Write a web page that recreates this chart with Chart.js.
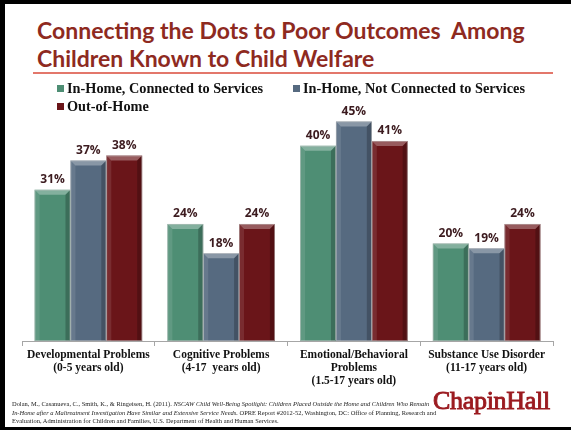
<!DOCTYPE html>
<html>
<head>
<meta charset="utf-8">
<title>Connecting the Dots to Poor Outcomes</title>
<script src="https://cdn.jsdelivr.net/npm/chart.js@4"></script>
<style>
  html, body { margin: 0; padding: 0; background: #fff; }
  #page { position: relative; width: 571px; height: 430px; overflow: hidden; background: #fff; }
  #frame { position: absolute; left: 0; top: 0; width: 571px; height: 430px; box-sizing: border-box;
           border-top: 4px solid #000; border-left: 5px solid #000; border-bottom: 3px solid #000; pointer-events: none; }
  #title { position: absolute; left: 37px; top: 16px; font-family: "Lato", "Open Sans", sans-serif; font-weight: bold;
           font-size: 23px; line-height: 28px; color: #8E2A1F; white-space: pre; }
  #rule { position: absolute; left: 33px; top: 72px; width: 520px; height: 2px; background: #E3776B; }
  #legend { position: absolute; left: 57px; top: 80px; width: 480px; }
  .lg-item { position: absolute; white-space: nowrap; font-family: "Liberation Serif", "Times New Roman", serif;
             font-weight: bold; font-size: 14.3px; line-height: 16px; color: #111; }
  .lg-box { display: inline-block; width: 7px; height: 7px; margin-right: 3px; vertical-align: 1px; }
  #chartWrap { position: absolute; left: 0; top: 0; width: 571px; height: 430px; }
  #source { position: absolute; left: 12px; top: 400px; font-family: "Liberation Serif", "Times New Roman", serif;
            font-size: 6.45px; line-height: 8.5px; color: #222; white-space: nowrap; }
  #logo { position: absolute; left: 433px; top: 386px; font-family: "Liberation Serif", "Times New Roman", serif;
          font-size: 26px; color: #9B1B20; -webkit-text-stroke: 0.9px #9B1B20; letter-spacing: -0.3px; }
</style>
</head>
<body>
<div id="page">
  <div id="title">Connecting the Dots to Poor Outcomes  Among
Children Known to Child Welfare</div>
  <div id="rule"></div>
  <div id="chartWrap"><canvas id="outcomeChart"></canvas></div>
  <div id="legend"></div>
  <div id="source">Dolan, M., Casanueva, C., Smith, K., &amp; Ringeisen, H. (2011). <i>NSCAW Child Well-Being Spotlight: Children Placed Outside the Home and Children Who Remain</i><br><i>In-Home after a Maltreatment Investigation Have Similar and Extensive Service Needs.</i> OPRE Report #2012-52, Washington, DC: Office of Planning, Research and<br>Evaluation, Administration for Children and Families, U.S. Department of Health and Human Services.</div>
  <div id="logo">ChapinHall</div>
  <div id="frame"></div>
</div>

<script>
// ---- data ----
const categories = [
  ["Developmental Problems", "(0-5 years old)"],
  ["Cognitive Problems", "(4-17  years old)"],
  ["Emotional/Behavioral", "Problems", "(1.5-17 years old)"],
  ["Substance Use Disorder", "(11-17 years old)"],
];
const seriesNames = [
  "In-Home, Connected to Services",
  "In-Home, Not Connected to Services",
  "Out-of-Home",
];
const connectedVals = [31, 24, 40, 20];
const notConnectedVals = [37, 18, 45, 19];
const outOfHomeVals = [38, 24, 41, 24];

const seriesColors = ["#4E8E74", "#566A80", "#6A1519"];

// bevelled look: light top face, light left edge, dark right edge
const bevelPlugin = {
  id: "bevel",
  afterDatasetsDraw(chart) {
    const ctx = chart.ctx;
    chart.data.datasets.forEach((ds, i) => {
      chart.getDatasetMeta(i).data.forEach((bar) => {
        const p = bar.getProps(["x", "y", "base", "width"], true);
        const l = p.x - p.width / 2;
        const r = p.x + p.width / 2;
        const t = p.y;
        const b = p.base;
        const d = 5;
        ctx.save();
        ctx.fillStyle = "rgba(255,255,255,0.30)";
        ctx.beginPath();
        ctx.moveTo(l, t); ctx.lineTo(r, t); ctx.lineTo(r - d, t + d); ctx.lineTo(l + d, t + d);
        ctx.closePath(); ctx.fill();
        ctx.fillStyle = "rgba(255,255,255,0.10)";
        ctx.beginPath();
        ctx.moveTo(l, t); ctx.lineTo(l + d, t + d); ctx.lineTo(l + d, b); ctx.lineTo(l, b);
        ctx.closePath(); ctx.fill();
        ctx.fillStyle = "rgba(0,0,0,0.22)";
        ctx.beginPath();
        ctx.moveTo(r, t); ctx.lineTo(r - d, t + d); ctx.lineTo(r - d, b); ctx.lineTo(r, b);
        ctx.closePath(); ctx.fill();
        ctx.strokeStyle = "rgba(200,200,200,0.6)";
        ctx.lineWidth = 0.8;
        ctx.strokeRect(l + 0.4, t + 0.4, p.width - 0.8, b - t - 0.8);
        ctx.restore();
      });
    });
  },
};

// percentage above each bar
const valueLabelPlugin = {
  id: "valueLabels",
  afterDatasetsDraw(chart) {
    const ctx = chart.ctx;
    ctx.save();
    ctx.font = "bold 12px 'Open Sans', sans-serif";
    ctx.fillStyle = "#3C1B1F";
    ctx.textAlign = "center";
    ctx.textBaseline = "middle";
    chart.data.datasets.forEach((ds, i) => {
      chart.getDatasetMeta(i).data.forEach((bar, j) => {
        ctx.fillText(ds.data[j] + "%", bar.x, bar.y - 10);
      });
    });
    ctx.restore();
  },
};

// legend built from the datasets, two columns
function buildLegend(chart) {
  const box = document.getElementById("legend");
  box.innerHTML = "";
  const spots = [[0, 0], [236, 0], [0, 18]];
  chart.data.datasets.forEach((ds, i) => {
    const item = document.createElement("div");
    item.className = "lg-item";
    item.style.left = spots[i][0] + "px";
    item.style.top = spots[i][1] + "px";
    const sw = document.createElement("span");
    sw.className = "lg-box";
    sw.style.background = ds.backgroundColor;
    item.appendChild(sw);
    item.appendChild(document.createTextNode(ds.label));
    box.appendChild(item);
  });
}

document.addEventListener("DOMContentLoaded", () => {
  const ctx = document.getElementById("outcomeChart").getContext("2d");
  const allVals = [connectedVals, notConnectedVals, outOfHomeVals];

  const chart = new Chart(ctx, {
    type: "bar",
    data: {
      labels: categories,
      datasets: allVals.map((vals, i) => ({
        label: seriesNames[i],
        data: vals,
        backgroundColor: seriesColors[i],
        borderWidth: 0,
        categoryPercentage: 0.81,
        barPercentage: 1.0,
      })),
    },
    options: {
      responsive: true,
      maintainAspectRatio: false,
      animation: false,
      layout: { padding: { left: 22, right: 18, top: 97, bottom: 39 } },
      plugins: {
        legend: { display: false },
        tooltip: { enabled: false },
      },
      scales: {
        x: {
          grid: {
            offset: true,
            drawOnChartArea: false,
            drawTicks: true,
            tickLength: 5,
            color: "#A6A6A6",
          },
          border: { display: true, color: "#A6A6A6", width: 1 },
          ticks: {
            color: "#111",
            padding: 3,
            maxRotation: 0,
            autoSkip: false,
            font: { family: "'Liberation Serif', 'Times New Roman', serif", weight: "bold", size: 11.5, lineHeight: 1.13 },
          },
          afterFit(scale) { scale.height = 50; },
        },
        y: {
          display: false,
          min: 0,
          max: 50,
        },
      },
    },
    plugins: [bevelPlugin, valueLabelPlugin],
  });

  buildLegend(chart);
});
</script>
</body>
</html>
